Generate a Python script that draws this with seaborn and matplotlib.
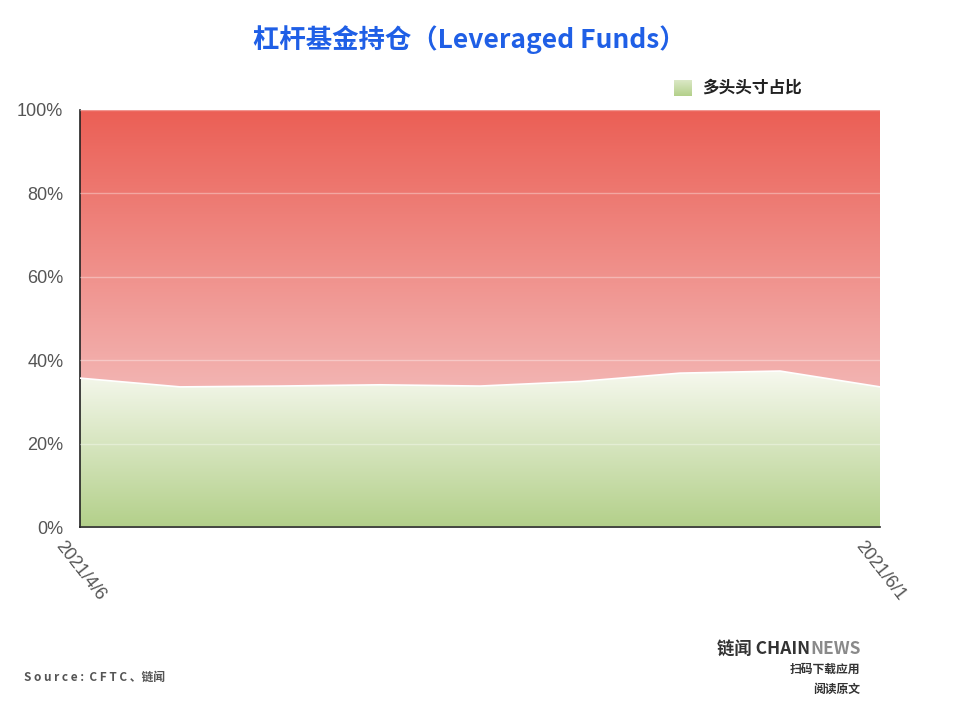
import numpy as np
import pandas as pd
import matplotlib.pyplot as plt
import seaborn as sns
from matplotlib.colors import LinearSegmentedColormap

# data (weekly CFTC reports)
dates = ['2021/4/6', '2021/4/13', '2021/4/20', '2021/4/27', '2021/5/4',
         '2021/5/11', '2021/5/18', '2021/5/25', '2021/6/1']
long_share = [35.7, 33.6, 33.8, 34.1, 33.8, 34.9, 36.9, 37.4, 33.6]
shown_ticks = ['2021/4/6', '2021/6/1']
y_ticks = [0, 20, 40, 60, 80, 100]

sns.set_theme(style="white")
plt.rcParams['font.family'] = ['Noto Sans CJK SC', 'DejaVu Sans']

df = pd.DataFrame({'date': dates, 'long': long_share})
df['x'] = range(len(df))

fig = plt.figure(figsize=(9.6, 7.18), dpi=100)
ax = fig.add_axes([80 / 960, 1 - 527 / 718, 800 / 960, 417 / 718])

x = df['x'].to_numpy()
y = df['long'].to_numpy()
xmax = x[-1]

# gradient fills clipped to the areas
green = LinearSegmentedColormap.from_list('g', ['#b3d08a', '#f6f8ee'])
red = LinearSegmentedColormap.from_list('r', ['#f3b4b2', '#eb5f55'])

poly_g = ax.fill_between(x, 0, y, color='none', lw=0)
grad = np.linspace(0, 1, 256).reshape(-1, 1)
im_g = ax.imshow(grad, cmap=green, origin='lower', aspect='auto',
                 extent=[0, xmax, 0, max(long_share)], zorder=1)
im_g.set_clip_path(poly_g.get_paths()[0], transform=ax.transData)

poly_r = ax.fill_between(x, y, 100, color='none', lw=0)
im_r = ax.imshow(grad, cmap=red, origin='lower', aspect='auto',
                 extent=[0, xmax, min(long_share), 100], zorder=1)
im_r.set_clip_path(poly_r.get_paths()[0], transform=ax.transData)

sns.lineplot(data=df, x='x', y='long', color='white', lw=1.2, ax=ax, zorder=3)

tick_font = dict(family='Liberation Sans', color='#555555', fontsize=13)
ax.set_xlim(0, xmax)
ax.set_ylim(0, 100)
ax.set_yticks(y_ticks)
ax.set_yticklabels([f'{v}%' for v in y_ticks], **tick_font)
ax.yaxis.grid(True, color='#ffffff', alpha=0.35, lw=1)
ax.set_axisbelow(False)
tick_pos = [dates.index(t) for t in shown_ticks]
ax.set_xticks(tick_pos)
ax.set_xticklabels(shown_ticks, rotation=-52, ha='center', va='top', **tick_font)
ax.tick_params(axis='y', length=0, pad=12)
ax.tick_params(axis='x', length=0, pad=8)
ax.set_xlabel('')
ax.set_ylabel('')
for s in ['top', 'right']:
    ax.spines[s].set_visible(False)
for s in ['left', 'bottom']:
    ax.spines[s].set_color('#222222')
    ax.spines[s].set_linewidth(1.2)

# title
fig.text(469 / 960, 1 - 40 / 718, '杠杆基金持仓（Leveraged Funds）', ha='center',
         va='center', fontsize=19, fontweight='heavy', color='#1f5fe6')

# legend
lax = fig.add_axes([674 / 960, 1 - 96 / 718, 18 / 960, 16 / 718])
lax.imshow(grad * 0.6, cmap=green, origin='lower', aspect='auto', vmin=0, vmax=1)
lax.axis('off')
fig.text(702 / 960, 1 - 88 / 718, '多头头寸占比', ha='left', va='center',
         fontsize=12, fontweight='bold', color='#222222')

# footer
fig.text(24 / 960, 1 - 677 / 718, 'S o u r c e :  C F T C 、链闻', ha='left',
         va='center', fontsize=8.5, fontweight='bold', color='#555555')
fig.text(810 / 960, 1 - 649 / 718, '链闻 CHAIN', ha='right', va='center',
         fontsize=12.5, fontweight='bold', color='#333333')
fig.text(810 / 960, 1 - 649 / 718, 'NEWS', ha='left', va='center',
         fontsize=12.5, fontweight='bold', color='#8a8a8a')
fig.text(860 / 960, 1 - 669 / 718, '扫码下载应用', ha='right', va='center',
         fontsize=8.5, fontweight='bold', color='#333333')
fig.text(860 / 960, 1 - 689 / 718, '阅读原文', ha='right', va='center',
         fontsize=8.5, fontweight='bold', color='#333333')

fig.savefig('out.png', dpi=100)
